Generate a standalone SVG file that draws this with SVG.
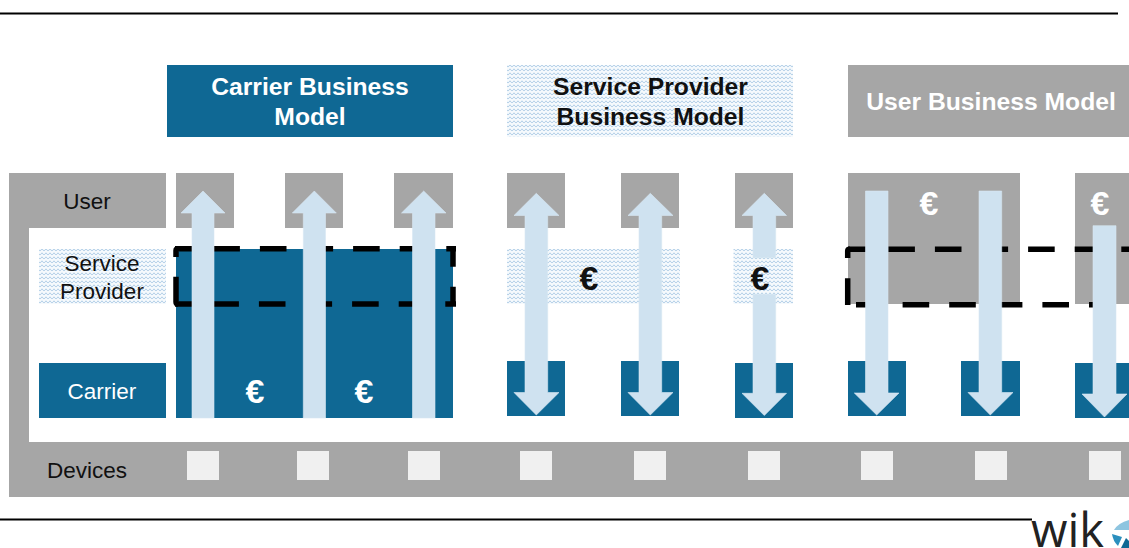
<svg xmlns="http://www.w3.org/2000/svg" width="1129" height="548" viewBox="0 0 1129 548">
<style>
text{font-family:"Liberation Sans",Arial,sans-serif;text-anchor:middle}
.lbl{font-size:22.5px;fill:#111}
.w{fill:#fff}
.hd{font-size:24.7px;font-weight:700}
.eu{font-size:34px;font-weight:700}
.gray{fill:#a6a6a6}
.blue{fill:#0f6894}
.pat{fill:url(#wave)}
.dev{fill:#f0f0f0}
.arr{fill:#cfe2f0;stroke:#d9e8f3;stroke-width:.6}
.rule{stroke:#000;stroke-width:2;fill:none}
.dash{stroke:#000;stroke-width:5.5;fill:none;stroke-dasharray:26.6 20}
.solid{stroke:#000;stroke-width:5.5;fill:none}
</style>
<defs>
<pattern id="wave" width="4" height="4" patternUnits="userSpaceOnUse">
<rect width="4" height="4" fill="#f6fafd"/>
<path d="M0 3.200L2 .8L4 3.200" fill="none" stroke="#b4d0e8" stroke-width="1"/>
</pattern>
</defs>
<line class="rule" x1="0" y1="13.5" x2="1118" y2="13.5"/>
<line class="rule" x1="0" y1="519.5" x2="1032" y2="519.5"/>

<g id="header-carrier"><rect class="blue" x="167" y="65" width="286" height="72"/><text class="hd w" x="310" y="95">Carrier Business</text><text class="hd w" x="310" y="125">Model</text></g>
<g id="header-sp"><rect class="pat" x="507" y="65" width="286" height="72"/><text class="hd" x="650.500" y="95" fill="#111">Service Provider</text><text class="hd" x="650.500" y="125" fill="#111">Business Model</text></g>
<g id="header-user"><rect class="gray" x="848" y="65" width="281" height="72"/><text class="hd w" x="991" y="110">User Business Model</text></g>

<g id="frame"><path class="gray" d="M9 173H166V228H29V442H1129V497H9Z"/></g>
<g id="row-user"><text class="lbl" x="87" y="209">User</text></g>
<g id="row-sp"><rect class="pat" x="39" y="249" width="127" height="55"/><text class="lbl" x="102" y="271">Service</text><text class="lbl" x="102" y="299">Provider</text></g>
<g id="row-carrier"><rect class="blue" x="39" y="363" width="127" height="55"/><text class="lbl w" x="102" y="398.500">Carrier</text></g>
<g id="row-devices"><text class="lbl" x="87" y="478">Devices</text>
<rect class="dev" x="187" y="451" width="32" height="29"/><rect class="dev" x="297" y="451" width="32" height="29"/><rect class="dev" x="408" y="451" width="32" height="29"/><rect class="dev" x="520" y="451" width="32" height="29"/><rect class="dev" x="634" y="451" width="32" height="29"/><rect class="dev" x="748" y="451" width="32" height="29"/><rect class="dev" x="861" y="451" width="32" height="29"/><rect class="dev" x="975" y="451" width="32" height="29"/><rect class="dev" x="1089" y="451" width="32" height="29"/></g>

<g id="carrier-model">
<rect class="gray" x="176" y="173" width="58" height="55"/><rect class="gray" x="285" y="173" width="58" height="55"/><rect class="gray" x="394" y="173" width="59" height="55"/>
<rect class="blue" x="176" y="249" width="277" height="169"/>
<text class="eu w" x="255" y="403">€</text><text class="eu w" x="364" y="403">€</text>
</g>
<g id="sp-model">
<rect class="gray" x="507" y="173" width="58" height="55"/><rect class="gray" x="621" y="173" width="58" height="55"/><rect class="gray" x="735" y="173" width="58" height="55"/>
<rect class="pat" x="507" y="249" width="173" height="55"/><rect class="pat" x="733.500" y="249" width="59.500" height="55"/>
<rect class="blue" x="507" y="361" width="58" height="55"/><rect class="blue" x="621" y="361" width="58" height="55"/><rect class="blue" x="735" y="363" width="58" height="55"/>
</g>
<g id="user-model">
<rect class="gray" x="848" y="173" width="172" height="131"/><rect class="gray" x="1075" y="173" width="54" height="131"/>
<rect class="blue" x="848" y="361" width="58" height="55"/><rect class="blue" x="961" y="361" width="59" height="55"/><rect class="blue" x="1075" y="363" width="54" height="55"/>
<text class="eu w" x="929" y="215">€</text><text class="eu w" x="1100" y="215">€</text>
</g>

<g id="connectors">
<path class="dash" d="M175 248.700H456" stroke-dashoffset="8.300"/>
<path class="dash" d="M175 304H456" stroke-dashoffset="9.300"/>
<path class="solid" d="M176 257V250.500Q176 248.700 178 248.700"/>
<path class="solid" d="M176 276.700V302Q176 304 178 304"/>
<path class="solid" d="M453 248.700V266.700M453 286.700V304"/>
<path class="dash" d="M848 249.300H1129" stroke-dashoffset="6.300"/>
<path class="dash" d="M856 304.700H1129"/>
<path class="solid" d="M847.700 258V251Q847.700 249.300 850 249.300M847.700 278.300V305"/>

<path class="arr" d="M192 418V213H181L203 191L225 213H214V418Z"/>
<path class="arr" d="M303.300 418V213H292.300L314.300 191L336.300 213H325.500V418Z"/>
<path class="arr" d="M412.500 418V213H401.500L423.700 191L446 213H435V418Z"/>
<path class="arr" d="M525 215.500H514L536.300 193.300L559 215.500H547.700V392.500H559L536.300 415L514 392.500H525Z"/>
<path class="arr" d="M639 215.500H628L650.300 193.300L673 215.500H661.700V392.500H673L650.300 415L628 392.500H639Z"/>
<path class="arr" d="M753 215.500H742L764.300 193.300L786.500 215.500H775.700V257.700H753Z"/>
<path class="arr" d="M753 294.300H775.700V393.300H786.500L764.300 415.500L742 393.300H753Z"/>
<path class="arr" d="M865.500 191H888V393H899L876.700 415L854.300 393H865.500Z"/>
<path class="arr" d="M979 191H1001.700V392.500H1013L990.300 415L968 392.500H979Z"/>
<path class="arr" d="M1093 225.700H1116V394H1127L1104.500 417L1082 394H1093Z"/>
</g>
<g id="euro-sp"><text class="eu" x="589" y="290" fill="#111">€</text><text class="eu" x="760" y="290" fill="#111">€</text></g>

<g id="logo">
<text x="1067.500" y="546.500" font-size="47" fill="#222" style="font-family:'Open Sans','Liberation Sans',sans-serif">wik</text>
<path d="M1114 530Q1118 523 1129 520V530Z" fill="#8ec5e0"/>
<path d="M1112 534L1122 537L1118 546Q1113 541 1112 534Z" fill="#2b8fbe"/>
<path d="M1121 548L1126 538L1129 541V548Z" fill="#0f6894"/>
</g>
</svg>
